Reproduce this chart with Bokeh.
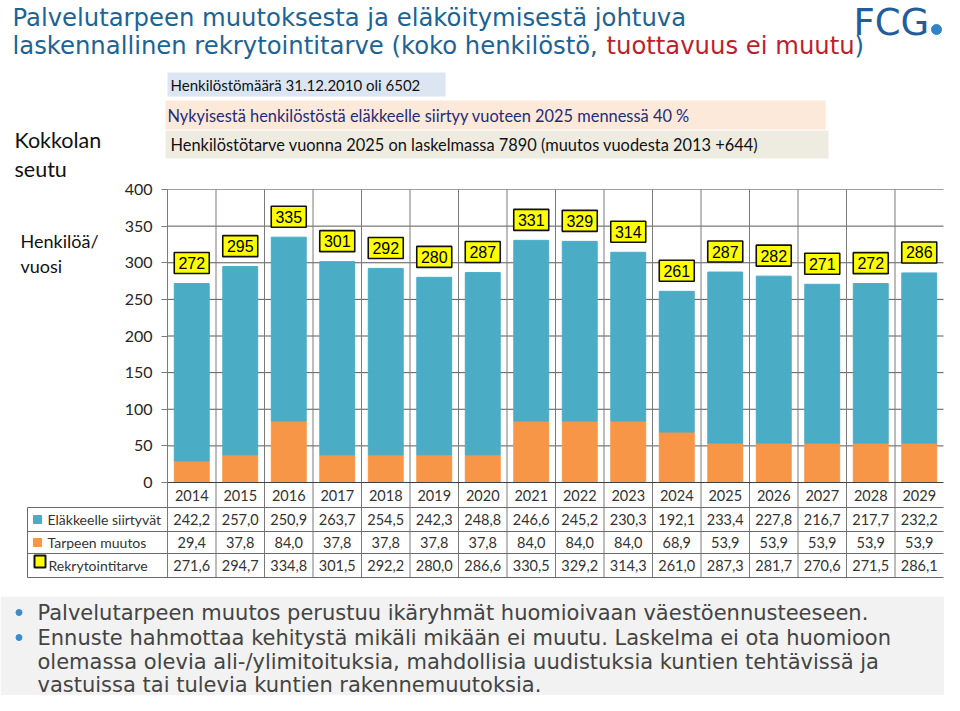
from bokeh.plotting import figure
from bokeh.models import Range1d, LinearAxis, FixedTicker, ColumnDataSource
from bokeh.core.properties import value
from bokeh.embed import file_html
from bokeh.resources import INLINE

# ---------------- data ----------------
years = ["2014", "2015", "2016", "2017", "2018", "2019", "2020", "2021",
         "2022", "2023", "2024", "2025", "2026", "2027", "2028", "2029"]
elakkeelle = [242.2, 257.0, 250.9, 263.7, 254.5, 242.3, 248.8, 246.6,
              245.2, 230.3, 192.1, 233.4, 227.8, 216.7, 217.7, 232.2]
tarpeen = [29.4, 37.8, 84.0, 37.8, 37.8, 37.8, 37.8, 84.0,
           84.0, 84.0, 68.9, 53.9, 53.9, 53.9, 53.9, 53.9]
rekry = [271.6, 294.7, 334.8, 301.5, 292.2, 280.0, 286.6, 330.5,
         329.2, 314.3, 261.0, 287.3, 281.7, 270.6, 271.5, 286.1]
bar_labels = ["272", "295", "335", "301", "292", "280", "287", "331",
              "329", "314", "261", "287", "282", "271", "272", "286"]
y_ticks = [0, 50, 100, 150, 200, 250, 300, 350, 400]
row_names = ["Eläkkeelle siirtyvät", "Tarpeen muutos", "Rekrytointitarve"]

title_1 = "Palvelutarpeen muutoksesta ja eläköitymisestä johtuva"
title_2a = "laskennallinen rekrytointitarve (koko henkilöstö, "
title_2b = "tuottavuus ei muutu"
title_2c = ")"
info_1 = "Henkilöstömäärä 31.12.2010 oli 6502"
info_2 = "Nykyisestä henkilöstöstä eläkkeelle siirtyy vuoteen 2025 mennessä 40 %"
info_3 = "Henkilöstötarve vuonna 2025 on laskelmassa 7890 (muutos vuodesta 2013 +644)"
region = ["Kokkolan", "seutu"]
unit = ["Henkilöä/", "vuosi"]
bullets = [
    ["Palvelutarpeen muutos perustuu ikäryhmät huomioivaan väestöennusteeseen."],
    ["Ennuste hahmottaa kehitystä mikäli mikään ei muutu. Laskelma ei ota huomioon",
     "olemassa olevia ali-/ylimitoituksia, mahdollisia uudistuksia kuntien tehtävissä ja",
     "vastuissa tai tulevia kuntien rakennemuutoksia."],
]

# ---------------- layout (picture pixels -> data) ----------------
W, H = 944, 695
PX0 = 167.0          # picture x of the plot-area left edge
CW = (943.0 - PX0) / len(years)   # category width in px
Y0 = 482.0           # picture y of value 0
YS = (482.0 - 189.0) / 400.0       # px per unit


def dx(xp):
    return (xp - PX0) / CW


def dy(yp):
    return (Y0 - yp) / YS


p = figure(width=W, height=H, x_range=Range1d(dx(0), dx(W)),
           y_range=Range1d(dy(H), dy(0)), output_backend="svg",
           toolbar_location=None, x_axis_type=None, y_axis_type=None,
           min_border=0, outline_line_color=None)
p.background_fill_color = "white"
p.border_fill_color = "white"


def txt(xp, yp, s, size, color="#000000", font="Lato", align="left",
        baseline="middle"):
    p.text(x=[dx(xp)], y=[dy(yp)], text=[s], text_font=value(font),
           text_font_size=f"{size}px", text_color=color, text_align=align,
           text_baseline=baseline)


# ---------------- title & logo ----------------
TBLUE = "#1C6396"
TRED = "#BE1E2D"
txt(12, 17, title_1, 24.3, TBLUE, "DejaVu Sans")
txt(12, 45, title_2a, 24.3, TBLUE, "DejaVu Sans")
txt(606, 45, title_2b, 24.3, TRED, "DejaVu Sans")
txt(854, 45, title_2c, 24.3, TBLUE, "DejaVu Sans")
txt(853, 22, "FCG", 37, "#1F5D9C", "DejaVu Sans")
p.scatter(x=[dx(936)], y=[dy(29)], size=10, color="#2E86C8")

# ---------------- info boxes ----------------
p.quad(left=[dx(167)], right=[dx(445)], top=[dy(72)], bottom=[dy(96)],
       color="#DCE6F2", line_color=None)
p.quad(left=[dx(165)], right=[dx(825)], top=[dy(100)], bottom=[dy(129)],
       color="#FDE9D9", line_color=None)
p.quad(left=[dx(165)], right=[dx(828)], top=[dy(130)], bottom=[dy(158)],
       color="#EEECE1", line_color=None)
txt(170, 84, info_1, 15, "#111111")
txt(167, 115, info_2, 16.4, "#1F2C7C")
txt(170, 144, info_3, 16.4, "#111111")

# ---------------- left labels ----------------
txt(14, 139, region[0], 21.5, "#111111")
txt(14, 168, region[1], 21.5, "#111111")
txt(20, 240, unit[0], 18, "#111111")
txt(20, 265, unit[1], 18, "#111111")

# ---------------- grid lines ----------------
n = len(years)
inner = [t for t in y_ticks if 0 < t < max(y_ticks)]
p.segment(x0=[0] * len(inner), x1=[n] * len(inner), y0=inner, y1=inner,
          line_color="#5a5a5a", line_width=1)
p.segment(x0=[0], x1=[n], y0=[max(y_ticks)], y1=[max(y_ticks)],
          line_color="#a0a0a0", line_width=1)
# category separators (through the data table)
seps = list(range(1, n))
p.segment(x0=seps, x1=seps, y0=[max(y_ticks)] * len(seps),
          y1=[dy(577)] * len(seps), line_color="#7a7a7a", line_width=1)
p.segment(x0=[0], x1=[0], y0=[0], y1=[dy(577)], line_color="#7a7a7a",
          line_width=1)

# ---------------- bars ----------------
xs = [i + 0.5 for i in range(n)]
src = ColumnDataSource(dict(
    x=xs, ela=elakkeelle, tar=tarpeen,
    top=[a + b for a, b in zip(tarpeen, elakkeelle)],
    ly=[r + 20.5 / YS for r in rekry], lab=bar_labels))
p.vbar(x="x", bottom=0, top="tar", width=0.72, color="#F79646", source=src)
p.vbar(x="x", bottom="tar", top="top", width=0.72, color="#4BACC6", source=src)

# zero line
p.segment(x0=[0], x1=[n], y0=[0], y1=[0], line_color="#404040", line_width=1)

# value boxes
p.rect(x="x", y="ly", width=35, height=21, width_units="screen",
       height_units="screen", fill_color="#FFFF00", line_color="#111111",
       line_width=1.6, source=src)
p.text(x="x", y="ly", text="lab", text_font=value("Liberation Sans"),
       text_font_size="16px", text_align="center", text_baseline="middle",
       text_color="#000000", source=src)

# ---------------- y axis ----------------
yaxis = LinearAxis(fixed_location=0, bounds=(0, max(y_ticks)),
                   ticker=FixedTicker(ticks=y_ticks))
yaxis.axis_line_color = "#7a7a7a"
yaxis.major_tick_line_color = "#7a7a7a"
yaxis.major_tick_out = 6
yaxis.major_tick_in = 0
yaxis.minor_tick_line_color = None
yaxis.major_label_standoff = 9
yaxis.major_label_text_font = "Lato"
yaxis.major_label_text_font_size = "16px"
yaxis.major_label_text_color = "#262626"
p.add_layout(yaxis, "left")

# ---------------- data table ----------------
row_y = [519, 542, 565]
hl = [507, 531, 553, 577]
p.segment(x0=[dx(27)] * len(hl), x1=[n] * len(hl), y0=[dy(v) for v in hl],
          y1=[dy(v) for v in hl], line_color="#6a6a6a", line_width=1)
p.segment(x0=[dx(27)], x1=[dx(27)], y0=[dy(507)], y1=[dy(577)],
          line_color="#6a6a6a", line_width=1)

TCOL = "#333333"
p.text(x=xs, y=[dy(494.5)] * n, text=years, text_font=value("Lato"),
       text_font_size="14.5px", text_align="center", text_baseline="middle",
       text_color=TCOL)
fmt = lambda v: f"{v:.1f}".replace(".", ",")
for series, ry in zip([elakkeelle, tarpeen, rekry], row_y):
    p.text(x=xs, y=[dy(ry)] * n, text=[fmt(v) for v in series],
           text_font=value("Lato"), text_font_size="14.5px", text_align="center",
           text_baseline="middle", text_color=TCOL)

# legend keys
p.rect(x=[dx(37)], y=[dy(519)], width=8, height=8, width_units="screen",
       height_units="screen", color="#4BACC6")
p.rect(x=[dx(37)], y=[dy(542)], width=8, height=8, width_units="screen",
       height_units="screen", color="#F79646")
p.rect(x=[dx(39.5)], y=[dy(561)], width=11, height=12, width_units="screen",
       height_units="screen", fill_color="#FFFF00", line_color="#111111",
       line_width=2)
txt(47, row_y[0], row_names[0], 14, TCOL)
txt(47, row_y[1], row_names[1], 14, TCOL)
txt(48, row_y[2], row_names[2], 14, TCOL)

# ---------------- bullet panel ----------------
p.quad(left=[dx(0)], right=[dx(W)], top=[dy(596)], bottom=[dy(H)],
       color="#F2F2F2", line_color=None)
line_ys = [[612], [637, 661, 684]]
for para, ys in zip(bullets, line_ys):
    p.scatter(x=[dx(18.5)], y=[dy(ys[0])], size=6, color="#3A8DCC")
    for s, ly in zip(para, ys):
        txt(37, ly, s, 21, "#444444", "DejaVu Sans")

open("out.html", "w").write(file_html(p, INLINE))
